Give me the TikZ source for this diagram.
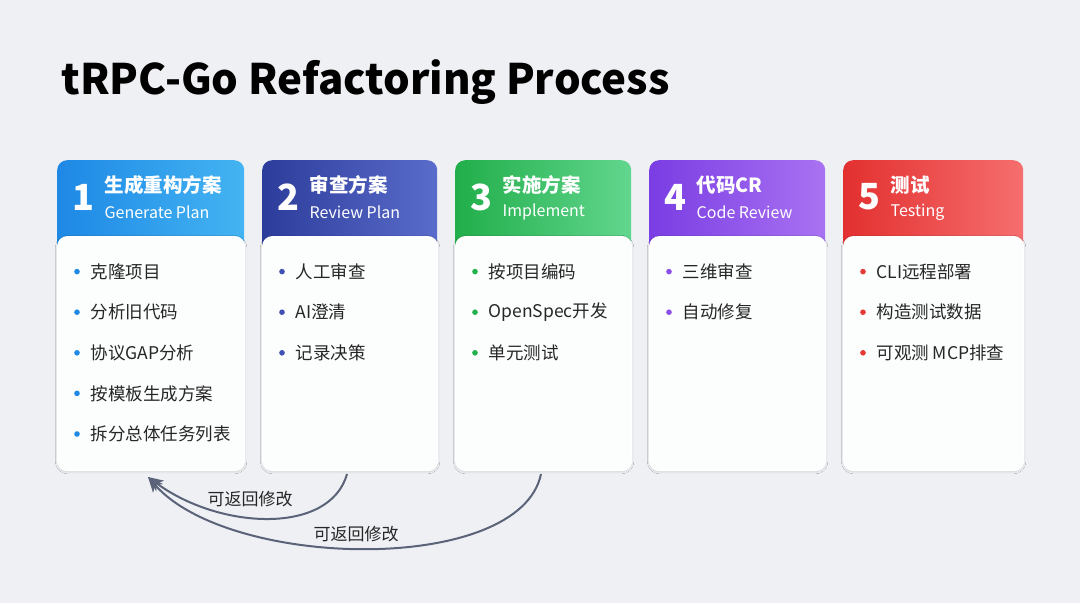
\documentclass[tikz,border=0pt]{standalone}
\usepackage{fontspec}
\setmainfont{Noto Sans CJK SC}
\usetikzlibrary{shadows.blur,arrows.meta}
\definecolor{bg}{HTML}{EEF0F4}
\definecolor{arr}{HTML}{5A6378}
\tikzset{
 head/.style={rounded corners=10pt,minimum width=#1,minimum height=100pt,anchor=north west,inner sep=0},
 body/.style={rounded corners=10pt,fill=white!85!bg,draw=white,line width=1.2pt,minimum height=234pt,anchor=north west,inner sep=0,blur shadow={shadow blur steps=10,shadow xshift=0pt,shadow yshift=-1pt,shadow opacity=15}},
 num/.style={text=white,font=\fontsize{36}{36}\selectfont\bfseries},
 cn/.style={text=white,font=\fontsize{19.5}{20}\selectfont\bfseries,anchor=west,inner sep=0.5pt},
 en/.style={text=white,font=\fontsize{16}{16}\selectfont,anchor=west,inner sep=0.5pt},
 it/.style={font=\fontsize{17.5}{18}\selectfont,anchor=west,text=black!85},
 lab/.style={font=\fontsize{17}{17}\selectfont,text=black!85},
 back/.style={-{Stealth[length=15pt,width=13pt,inset=4pt]},draw=arr,line width=2pt}
}
\begin{document}
\begin{tikzpicture}[x=1pt,y=-1pt]
\fill[bg] (0,0) rectangle (1080,603);
\node[anchor=west,font=\fontsize{42}{42}\selectfont\bfseries] (title) at (58,82) {tRPC-Go Refactoring Process};
% cards
\foreach \i/\x/\w/\ca/\cb/\n/\cnt/\ent in {1/57/187/1E88E5/44B4F2/1/生成重构方案/Generate Plan,2/262/175/2C3C9A/5A6CCB/2/审查方案/Review Plan,3/455/176/21AE4A/62D68E/3/实施方案/Implement,4/649/176/7A3DE3/A972F2/4/代码CR/Code Review,5/843/180/E2302F/F66E6E/5/测试/Testing}{
 \definecolor{ca}{HTML}{\ca}\definecolor{cb}{HTML}{\cb}
 \node[head=\w pt,left color=ca,right color=cb] (h\i) at (\x,160) {};
 \node[num] (n\i) at (\x+26,197) {\n};
 \node[cn] (c\i) at (\x+47,185) {\cnt};
 \node[en] (e\i) at (\x+47,212) {\ent};
 \node[body,minimum width=\w pt] (b\i) at (\x,236) {};
}
\newcommand\items[3]{%
 \definecolor{bc}{HTML}{#2}%
 \foreach \t [count=\k] in {#3}{
  \fill[bc] (#1+20,231+\k*40.6) circle (2.8pt);
  \node[it] (i#1-\k) at (#1+30,231+\k*40.6) {\t};
 }}
\items{57}{1E88E5}{克隆项目,分析旧代码,协议GAP分析,按模板生成方案,拆分总体任务列表}
\items{262}{3F51B5}{人工审查,AI澄清,记录决策}
\items{455}{22B14C}{按项目编码,OpenSpec开发,单元测试}
\items{649}{8A4FE8}{三维审查,自动修复}
\items{843}{E53935}{CLI远程部署,构造测试数据,可观测 MCP排查}
% arrows
\coordinate (t) at (148,477);
\coordinate (s1) at (347,474);
\coordinate (s2) at (541,474);
\draw[back] (s1) .. controls (330,535) and (220,530) .. (t);
\draw[back] (s2) .. controls (520,575) and (230,570) .. (t);
\node[lab] (l1) at (250,499) {可返回修改};
\node[lab] (l2) at (356,534) {可返回修改};
\end{tikzpicture}
\end{document}
